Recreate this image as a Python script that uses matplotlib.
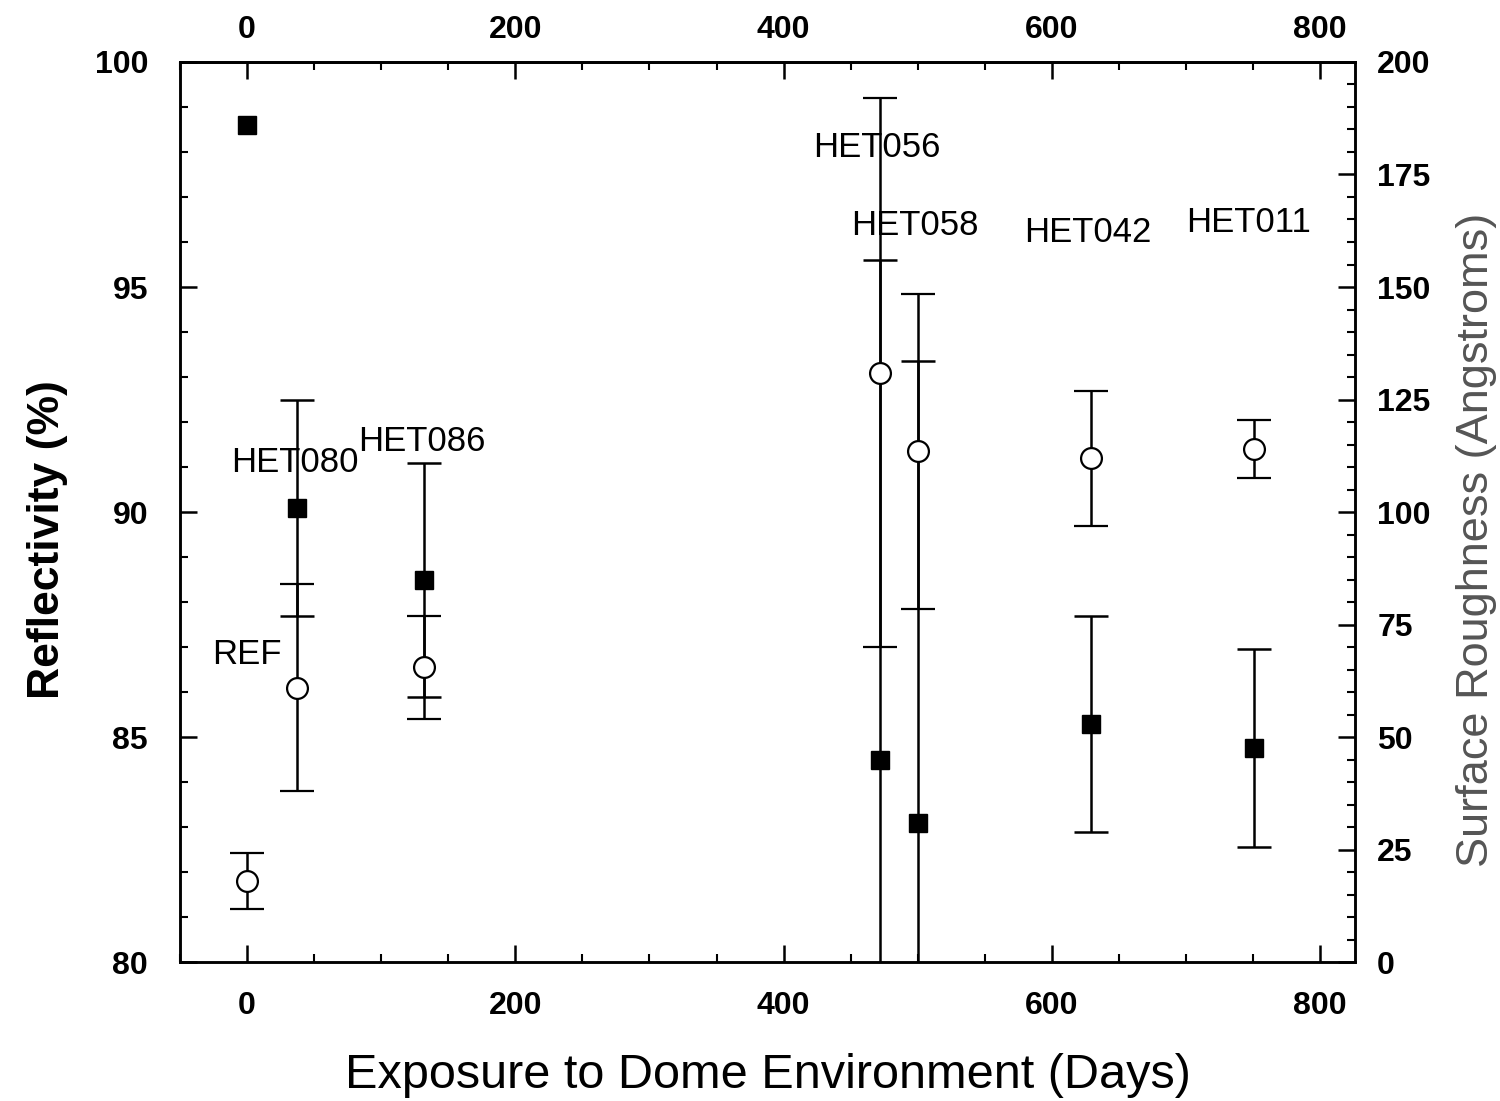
import matplotlib
matplotlib.use("Agg")
import matplotlib.pyplot as plt
from matplotlib.ticker import MultipleLocator

# Data
samples = ["REF", "HET080", "HET086", "HET056", "HET058", "HET042", "HET011"]
days = [0, 37, 132, 472, 500, 629, 751]
reflectivity = [98.6, 90.1, 88.5, 84.5, 83.1, 85.3, 84.75]
refl_err = [0, 2.4, 2.6, 11.1, 10.25, 2.4, 2.2]
roughness = [18, 61, 65.5, 131, 113.5, 112, 114]
rough_err = [6.3, 23, 11.5, 61, 35, 15, 6.5]
label_x = [-26, -12, 83, 422, 450.5, 579.5, 700]
label_y = [86.62, 90.88, 91.36, 97.88, 96.16, 95.99, 96.23]
x_ticks = [0, 200, 400, 600, 800]
left_ticks = [80, 85, 90, 95, 100]
right_ticks = [0, 25, 50, 75, 100, 125, 150, 175, 200]

fig = plt.figure(figsize=(15, 11.01), dpi=100)
ax = fig.add_axes([0.12, 0.1262, 0.7833, 0.8175])
ax2 = ax.twinx()

for a in (ax, ax2):
    a.set_xlim(-50, 826)
ax.set_ylim(80, 100)
ax2.set_ylim(0, 200)

eb = dict(color="black", ms=13, capsize=12, capthick=1.8, elinewidth=1.8, zorder=3)
# reflectivity (filled squares); points without error have no bar
wx = [d for d, e in zip(days, refl_err) if e > 0]
wy = [r for r, e in zip(reflectivity, refl_err) if e > 0]
we = [e for e in refl_err if e > 0]
ax.errorbar(wx, wy, yerr=we, fmt="s", mfc="black", mec="black", **eb)
nx = [d for d, e in zip(days, refl_err) if e == 0]
ny = [r for r, e in zip(reflectivity, refl_err) if e == 0]
ax.plot(nx, ny, "s", color="black", ms=13, zorder=3)

ax2.errorbar(days, roughness, yerr=rough_err, fmt="o", mfc="white", mec="black",
             mew=1.6, **{**eb, "ms": 15})

for s, lx, ly in zip(samples, label_x, label_y):
    ax.text(lx, ly, s, fontsize=25, family="Liberation Sans",
            ha="left", va="baseline", zorder=1)

bold = dict(fontsize=23, fontweight="bold", family="Liberation Sans")
ax.set_xticks(x_ticks)
ax.set_xticklabels([str(t) for t in x_ticks], **bold)
ax.xaxis.set_minor_locator(MultipleLocator(50))
ax.set_yticks(left_ticks)
ax.set_yticklabels([str(v) for v in left_ticks], **bold)
ax.yaxis.set_minor_locator(MultipleLocator(1))
ax2.set_yticks(right_ticks)
ax2.set_yticklabels([str(v) for v in right_ticks], **bold)
ax2.yaxis.set_minor_locator(MultipleLocator(5))

# top axis (same scale)
top = ax.secondary_xaxis("top")
top.set_xticks(x_ticks)
top.set_xticklabels([str(t) for t in x_ticks], **bold)
top.xaxis.set_minor_locator(MultipleLocator(50))
top.tick_params(axis="x", which="major", direction="in", length=12, width=1.8, pad=12)
top.tick_params(axis="x", which="minor", direction="in", length=6, width=1.5)
top.spines["top"].set_linewidth(1.8)

ax.tick_params(axis="both", which="major", direction="in", length=12, width=1.8)
ax.tick_params(axis="x", which="major", pad=21)
ax.tick_params(axis="y", which="major", pad=23)
ax.tick_params(axis="both", which="minor", direction="in", length=6, width=1.5)
ax.tick_params(axis="x", which="both", top=False, labeltop=False)
ax.tick_params(axis="y", which="both", right=False)
ax2.tick_params(axis="y", which="major", direction="in", length=12, width=1.8, pad=16)
ax2.tick_params(axis="y", which="minor", direction="in", length=6, width=1.5)

for a in (ax, ax2):
    for sp in a.spines.values():
        sp.set_linewidth(1.8)

ax.set_xlabel("Exposure to Dome Environment (Days)", fontsize=35,
              family="Liberation Sans", labelpad=23)
ax.set_ylabel("Reflectivity (%)", fontsize=32, fontweight="bold",
              family="Liberation Sans")
ax.yaxis.set_label_coords(-0.0953, 0.469)
ax2.set_ylabel("Surface Roughness (Angstroms)", fontsize=32.5, color="#555555",
               family="Liberation Sans")
ax2.yaxis.set_label_coords(1.086, 0.469)

fig.savefig("out.png", dpi=100, facecolor="white")
